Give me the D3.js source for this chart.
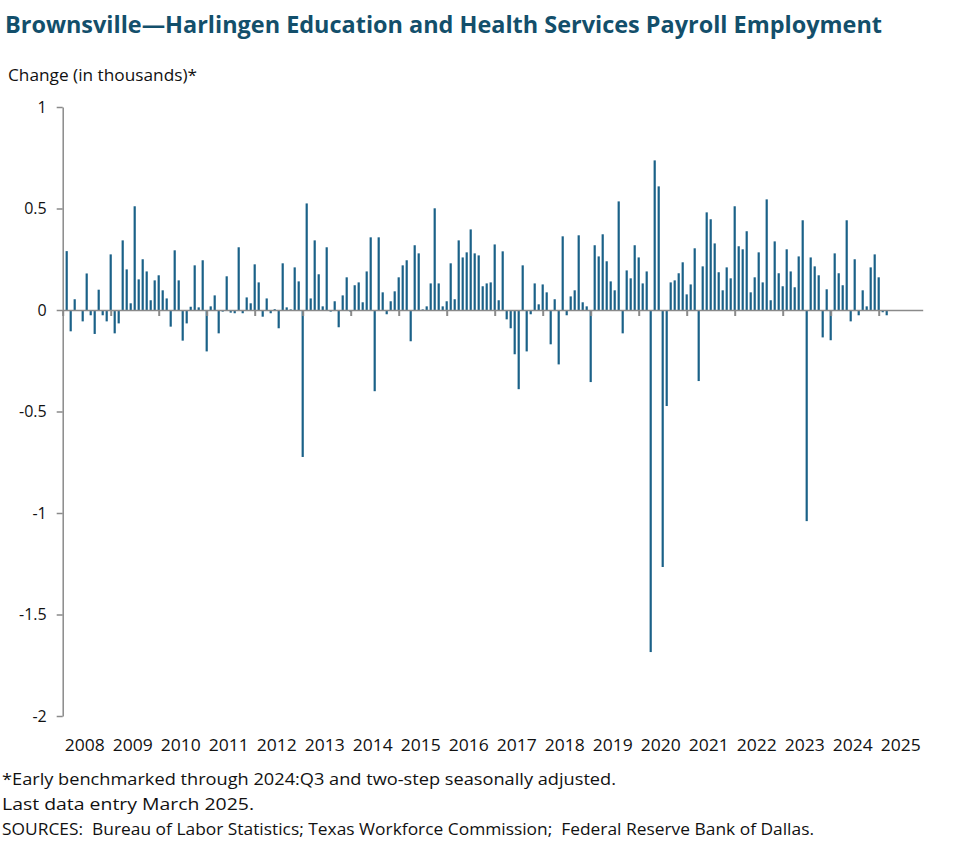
<!DOCTYPE html>
<html>
<head>
<meta charset="utf-8">
<script src="https://cdn.jsdelivr.net/npm/d3@7"></script>
<style>
  html, body { margin: 0; padding: 0; background: #fff; }
  svg { display: block; }
  text { font-family: "Open Sans", "Liberation Sans", sans-serif; }
</style>
</head>
<body>
<svg id="chart" width="977" height="864"></svg>
<script>
// Monthly change, Feb 2008 .. Mar 2025 (thousands)
const startYear = 2008;
const startMonth = 2; // February
const values = [
  0.29, -0.105, 0.053, -0.005, -0.056, 0.18, -0.026, -0.118, 0.10, -0.026, -0.056,
  0.274, -0.115, -0.066, 0.343, 0.20, 0.033, 0.511, 0.151, 0.25, 0.19, 0.048, 0.146,
  0.171, 0.097, 0.057, -0.082, 0.294, 0.146, -0.151, -0.066, 0.016, 0.22, 0.013, 0.245,
  -0.204, 0.018, 0.072, -0.115, -0.008, 0.166, -0.013, -0.016, 0.309, -0.016, 0.062, 0.033,
  0.225, 0.136, -0.033, 0.057, -0.016, 0.004, -0.09, 0.23, 0.013, 0.003, 0.21, 0.141,
  -0.724, 0.525, 0.057, 0.343, 0.176, 0.018, 0.309, -0.008, 0.043, -0.085, 0.072, 0.161,
  -0.01, 0.122, 0.136, 0.038, 0.19, 0.358, -0.40, 0.358, 0.087, -0.021, 0.043, 0.092,
  0.161, 0.22, 0.245, -0.154, 0.319, 0.279, 0.003, 0.018, 0.131, 0.501, 0.131, 0.018,
  0.043, 0.23, 0.053, 0.343, 0.259, 0.284, 0.397, 0.279, 0.269, 0.117, 0.131, 0.136,
  0.323, 0.048, 0.289, -0.046, -0.09, -0.218, -0.39, 0.22, -0.204, -0.021, 0.131, 0.028,
  0.126, 0.087, -0.169, 0.053, -0.268, 0.363, -0.026, 0.067, 0.097, 0.368, 0.038, 0.018,
  -0.355, 0.319, 0.264, 0.373, 0.24, 0.141, 0.097, 0.535, -0.115, 0.195, 0.156, 0.319,
  0.259, 0.131, 0.19, -1.685, 0.737, 0.609, -1.266, -0.473, 0.136, 0.146, 0.181, 0.235,
  0.077, 0.126, 0.304, -0.35, 0.215, 0.481, 0.447, 0.328, 0.186, 0.097, 0.21, 0.156,
  0.511, 0.314, 0.299, 0.388, 0.087, 0.161, 0.284, 0.136, 0.545, 0.048, 0.338, 0.181,
  0.117, 0.299, 0.19, 0.112, 0.264, 0.442, -1.04, 0.259, 0.215, 0.171, -0.135, 0.102,
  -0.149, 0.279, 0.181, 0.122, 0.442, -0.056, 0.25, -0.026, 0.097, 0.018, 0.21, 0.274,
  0.161, -0.011, -0.026
];
const years = d3.range(2008, 2026);
const yTicks = [1, 0.5, 0, -0.5, -1, -1.5, -2];
const titleText = "Brownsville\u2014Harlingen Education and Health Services Payroll Employment";
const yLabel = "Change (in thousands)*";
const notes = [
  "*Early benchmarked through 2024:Q3 and two-step seasonally adjusted.",
  "Last data entry March 2025.",
  "SOURCES:  Bureau of Labor Statistics; Texas Workforce Commission;  Federal Reserve Bank of Dallas."
];

const svg = d3.select("#chart");
const barColor = "#1b6188";
const axisColor = "#8a8a8a";

// month index: 0 = Feb 2008; index of Jan of year Y = (Y-2008)*12 - 1
const monthIndex = (yr, m) => (yr - startYear) * 12 + (m - startMonth);
const x = d3.scaleLinear().domain([monthIndex(2008, 1), monthIndex(2025, 12)]).range([62.7, 922.7]);
const y = d3.scaleLinear().domain([-2, 1]).range([716, 107]);

// bars
svg.append("g").selectAll("rect").data(values).join("rect")
  .attr("x", (d, i) => x(i) - 1.1)
  .attr("width", 2.2)
  .attr("y", d => y(Math.max(0, d)))
  .attr("height", d => Math.abs(y(d) - y(0)))
  .attr("fill", barColor);

// x axis (zero line) with ticks at the start of each year
const xAxis = d3.axisBottom(x)
  .tickValues(years.map(yr => monthIndex(yr, 1)))
  .tickFormat("")
  .tickSize(6)
  .tickSizeOuter(0);
const gx = svg.append("g").attr("transform", `translate(0,${y(0)})`).call(xAxis);
gx.select(".domain").attr("stroke", axisColor).attr("stroke-width", 1.5);
gx.selectAll(".tick line").attr("stroke", axisColor).attr("stroke-width", 2);

// year labels centred in each year
svg.append("g").selectAll("text").data(years).join("text")
  .attr("x", yr => x(monthIndex(yr, 7)) - 2)
  .attr("y", 751)
  .attr("text-anchor", "middle")
  .attr("font-size", 16)
  .attr("fill", "#111")
  .attr("textLength", 40)
  .attr("lengthAdjust", "spacingAndGlyphs")
  .text(yr => yr);

// y axis
const yAxis = d3.axisLeft(y)
  .tickValues(yTicks)
  .tickFormat(d => String(d))
  .tickSize(6)
  .tickPadding(10)
  .tickSizeOuter(0);
const gy = svg.append("g").attr("transform", `translate(62.7,0)`).call(yAxis);
gy.select(".domain").attr("stroke", axisColor).attr("stroke-width", 1.5);
gy.selectAll(".tick line").attr("stroke", axisColor).attr("stroke-width", 1.5);
gy.selectAll(".tick text")
  .attr("font-size", 16)
  .attr("fill", "#111")
  .style("font-family", "'Open Sans', 'Liberation Sans', sans-serif");

// title
svg.append("text")
  .attr("x", 5).attr("y", 33)
  .attr("font-size", 23)
  .attr("font-weight", "bold")
  .attr("fill", "#134f6b")
  .attr("textLength", 877)
  .attr("lengthAdjust", "spacingAndGlyphs")
  .text(titleText);

// y label
svg.append("text")
  .attr("x", 8).attr("y", 81)
  .attr("font-size", 15.5)
  .attr("fill", "#111")
  .attr("textLength", 189)
  .attr("lengthAdjust", "spacingAndGlyphs")
  .text(yLabel);

// notes
const noteLens = [614, 252, 812];
svg.append("g").selectAll("text").data(notes).join("text")
  .attr("x", 2)
  .attr("y", (d, i) => 785 + i * 25)
  .attr("font-size", 15.5)
  .attr("fill", "#111")
  .attr("textLength", (d, i) => noteLens[i])
  .attr("lengthAdjust", "spacingAndGlyphs")
  .style("white-space", "pre")
  .text(d => d);
</script>
</body>
</html>
